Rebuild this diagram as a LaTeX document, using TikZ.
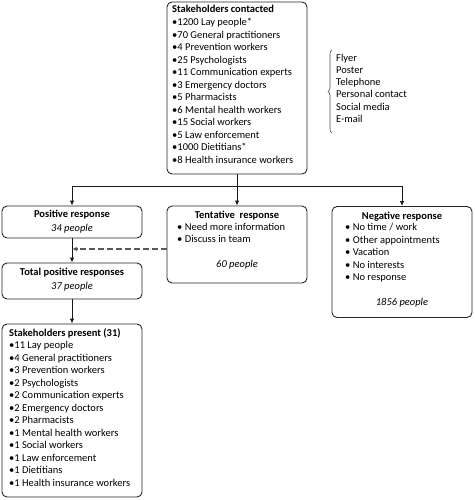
\documentclass[tikz,border=0pt]{standalone}
\usepackage{fontspec}
\setmainfont{Carlito}
\usetikzlibrary{arrows.meta,decorations.pathreplacing}
\begin{document}
\begin{tikzpicture}[x=1pt,y=-1pt,
  box/.style={draw=black!85, line width=0.9pt, rounded corners=5pt, inner sep=0pt, minimum width=140pt},
  txt/.style={inner sep=0pt, font=\fontsize{10.5}{12.5}\selectfont, align=left, anchor=base west},
  ctxt/.style={inner sep=0pt, font=\fontsize{10.5}{12.5}\selectfont, anchor=base},
  arr/.style={draw=black!90, line width=0.9pt, -{Latex[length=5pt,width=4.5pt]}},
  dasharr/.style={arr, draw=black!65, dash pattern=on 6pt off 3pt, line width=1.1pt}]
\useasboundingbox (0,0) rectangle (474,500);

% boxes
\node[box, minimum height=172pt] (top) at (237,88) {};
\node[box, minimum height=32pt] (pos) at (72,222) {};
\node[box, minimum height=77pt] (tent) at (237,244.5) {};
\node[box, minimum height=111pt] (neg) at (402,262) {};
\node[box, minimum height=36pt] (total) at (72,281) {};
\node[box, minimum height=173pt] (present) at (72,410.5) {};

% texts (anchored at the baseline of their last line)
\node[txt] (topT) at (172,163) {\textbf{Stakeholders contacted}\\
•1200 Lay people*\\
•70 General practitioners\\
•4 Prevention workers\\
•25 Psychologists\\
•11 Communication experts\\
•3 Emergency doctors\\
•5 Pharmacists\\
•6 Mental health workers\\
•15 Social workers\\
•5 Law enforcement\\
•1000 Dietitians*\\
•8 Health insurance workers};

\node[txt, font=\fontsize{10.5}{12.25}\selectfont] (media) at (336,122.25) {Flyer\\
Poster\\
Telephone\\
Personal contact\\
Social media\\
E-mail};
\draw[line width=0.6pt, draw=black!70, decorate, decoration={brace, amplitude=4pt}] (332,133) -- (332,50);

\node[ctxt] (posT) at (72,217) {\textbf{Positive response}};
\node[ctxt] (posN) at (72,231) {\textit{34 people}};

\node[ctxt] (tentT) at (237,218) {\textbf{Tentative\ \ response}};
\node[txt] (tentB) at (177,242.5) {• Need more information\\
• Discuss in team};
\node[ctxt] (tentN) at (237,267) {\textit{60 people}};

\node[ctxt] (negT) at (402,219) {\textbf{Negative response}};
\node[txt] (negB) at (345,280.5) {• No time / work\\
• Other appointments\\
• Vacation\\
• No interests\\
• No response};
\node[ctxt] (negN) at (402,305) {\textit{1856 people}};

\node[ctxt] (totT) at (72,275) {\textbf{Total positive responses}};
\node[ctxt] (totN) at (72,289) {\textit{37 people}};

\node[txt] (presT) at (9,486) {\textbf{Stakeholders present (31)}\\
•11 Lay people\\
•4 General practitioners\\
•3 Prevention workers\\
•2 Psychologists\\
•2 Communication experts\\
•2 Emergency doctors\\
•2 Pharmacists\\
•1 Mental health workers\\
•1 Social workers\\
•1 Law enforcement\\
•1 Dietitians\\
•1 Health insurance workers};

% connectors
\coordinate (split) at (237,186);
\coordinate (dj) at (72,249);
\draw[arr] (top.south) -- (tent.north);
\draw[arr] (split) -| (pos.north);
\draw[arr] (split) -| (neg.north);
\draw[arr] (pos.south) -- (total.north);
\draw[arr] (total.south) -- (present.north);
\draw[dasharr] (tent.west |- dj) -- (dj);
\end{tikzpicture}
\end{document}
